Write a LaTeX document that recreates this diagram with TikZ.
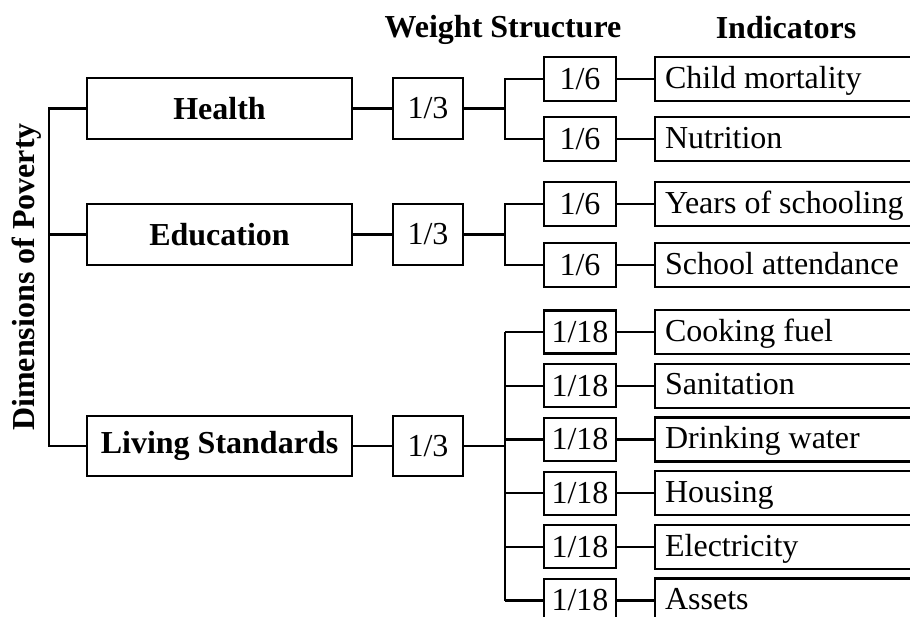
\documentclass[tikz,border=0pt]{standalone}
\usepackage{fontspec}
\setmainfont{Liberation Serif}
\newcommand\indtxt[1]{\makebox[256pt][l]{#1}}
\begin{document}
\begin{tikzpicture}[x=1pt,y=-1pt,
  font=\fontsize{32}{36}\selectfont,
  bx/.style={draw, line width=2.2pt, inner sep=0pt},
  dimbox/.style={bx, minimum width=265pt, minimum height=61pt, font=\fontsize{32}{36}\selectfont\bfseries},
  wbox/.style={bx, minimum width=70pt, minimum height=61pt},
  sbox/.style={bx, minimum width=72pt, minimum height=44pt},
  ibox/.style={bx, anchor=west, inner xsep=10pt, inner ysep=0pt,
     minimum height=44pt, text height=24pt, text depth=5.4pt},
  head/.style={anchor=base, font=\fontsize{32}{36}\selectfont\bfseries},
  conn/.style={draw, line width=2.2pt}
]
\useasboundingbox (0,0) rectangle (910,617);
\fill[white] (0,0) rectangle (910,617);
\clip (0,0) rectangle (910,617);

% headers
\node[head] (hw) at (503,38) {Weight Structure};
\node[head] (hi) at (786,39) {Indicators};

% root label
\node[rotate=90, font=\fontsize{32}{36}\selectfont\bfseries] (dim) at (27,277) {Dimensions of Poverty};
\coordinate (root) at (49,0);
\coordinate (br) at (505,0);

% dimensions
\node[dimbox] (health) at (219.5,108.5) {Health};
\node[dimbox] (edu) at (219.5,234.5) {Education};
\node[dimbox, minimum height=60pt] (liv) at (219.5,446) {Living Standards};

% 1/3 weights
\node[wbox] (h13) at (428,108.5) {1/3};
\node[wbox] (e13) at (428,234.5) {1/3};
\node[wbox, minimum height=60pt] (l13) at (428,446) {1/3};

% health indicators
\node[sbox] (h16a) at (580,79) {1/6};
\node[sbox] (h16b) at (580,139) {1/6};
\node[ibox] (hia) at (654,79) {\indtxt{Child mortality}};
\node[ibox] (hib) at (654,139) {\indtxt{Nutrition}};

% education indicators
\node[sbox] (e16a) at (580,204) {1/6};
\node[sbox] (e16b) at (580,265) {1/6};
\node[ibox] (eia) at (654,204) {\indtxt{Years of schooling}};
\node[ibox] (eib) at (654,265) {\indtxt{School attendance}};

% living standards indicators
\foreach \yy/\lab [count=\i] in {332/Cooking fuel, 385.7/Sanitation, 439.4/Drinking water,
   493.1/Housing, 546.8/Electricity, 600.5/Assets}{
  \node[sbox, minimum height=43pt] (l18\i) at (580,\yy) {1/18};
  \node[ibox] (li\i) at (654,\yy) {\indtxt{\lab}};
  \draw[conn] (l18\i.east) -- (li\i.west);
  \draw[conn] (l18\i.west) -- (l18\i.west -| br);
}

% root connectors
\draw[conn] (health.west) -| (root |- liv.west) -- (liv.west);
\draw[conn] (edu.west) -- (edu.west -| root);

% dimension to weight
\draw[conn] (health.east) -- (h13.west);
\draw[conn] (edu.east) -- (e13.west);
\draw[conn] (liv.east) -- (l13.west);

% weight to branches
\draw[conn] (h13.east) -- (h13.east -| br);
\draw[conn] (h16a.west) -| (br |- h16b.west) -- (h16b.west);
\draw[conn] (e13.east) -- (e13.east -| br);
\draw[conn] (e16a.west) -| (br |- e16b.west) -- (e16b.west);
\draw[conn] (l13.east) -- (l13.east -| br);
\draw[conn] (l181.west -| br) -- (l186.west -| br);

% weights to indicators
\draw[conn] (h16a.east) -- (hia.west);
\draw[conn] (h16b.east) -- (hib.west);
\draw[conn] (e16a.east) -- (eia.west);
\draw[conn] (e16b.east) -- (eib.west);
\end{tikzpicture}
\end{document}
